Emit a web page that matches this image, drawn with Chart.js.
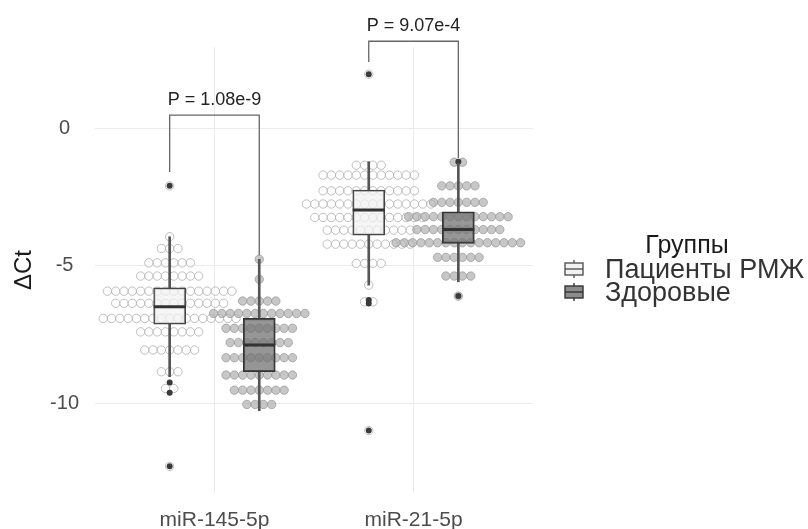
<!DOCTYPE html>
<html>
<head>
<meta charset="utf-8">
<script src="https://cdn.jsdelivr.net/npm/chart.js@4.4.1/dist/chart.umd.min.js"></script>
<style>
  body { margin: 0; background: #fff; }
</style>
</head>
<body>
<canvas id="chart" width="808" height="529"></canvas>
<script>
const categories = ['miR-145-5p', 'miR-21-5p'];
const groups = ['Пациенты РМЖ', 'Здоровые'];
const yTicks = [-10, -5, 0];

// box stats, one value per category
const patientsLow = [-9.04, -5.71];
const patientsQ1 = [-7.13, -3.89];
const patientsMedian = [-6.50, -2.98];
const patientsQ3 = [-5.81, -2.25];
const patientsHigh = [-3.95, -1.22];
const healthyLow = [-10.28, -5.59];
const healthyQ1 = [-8.86, -4.19];
const healthyMedian = [-7.89, -3.69];
const healthyQ3 = [-6.92, -3.04];
const healthyHigh = [-4.77, -1.28];

const patientsOutliers = [[-2.1, -9.25, -9.62, -12.3], [1.96, -6.25, -6.38, -11.0]];
const healthyOutliers = [[], [-1.22, -6.11]];

// dotplot: bin value of each row and how many dots are stacked in it
const patients145Rows = [-2.1, -3.95, -4.38, -4.9, -5.38, -5.93, -6.37, -6.92, -7.41, -8.07, -8.86, -9.47, -12.3];
const patients145Counts = [1, 1, 3, 6, 8, 16, 14, 17, 8, 7, 3, 2, 1];
const healthy145Rows = [-4.77, -5.5, -6.29, -6.74, -7.28, -7.8, -8.35, -8.98, -9.53, -10.05];
const healthy145Counts = [1, 1, 5, 12, 9, 8, 9, 9, 7, 4];
const patients21Rows = [1.96, -1.35, -1.71, -2.28, -2.76, -3.25, -3.71, -4.22, -4.92, -5.71, -6.32, -11.0];
const patients21Counts = [1, 4, 12, 12, 16, 14, 11, 11, 4, 1, 2, 1];
const healthy21Rows = [-1.24, -2.1, -2.7, -3.22, -3.69, -4.17, -4.7, -5.38, -6.11];
const healthy21Counts = [2, 5, 7, 13, 11, 16, 6, 4, 1];

const pLabels = ['P = 1.08e-9', 'P = 9.07e-4'];
const bracketTop = [0.47, 3.16];
const bracketLeftEnd = [-1.6, 2.4];
const bracketRightEnd = [-4.62, -1.1];

const dodge = 0.225;
const dotStep = 0.0417;
const FONT = '"Liberation Sans", Arial, sans-serif';

function dotPoints(rowsByCat, countsByCat, side) {
  const pts = [];
  rowsByCat.forEach((rows, c) => {
    const center = c + 1 + side * dodge;
    rows.forEach((y, r) => {
      const n = countsByCat[c][r];
      for (let i = 0; i < n; i++) pts.push({ x: center + (i - (n - 1) / 2) * dotStep, y: y });
    });
  });
  return pts;
}

const medians = [], whiskers = [], boxP = [], boxH = [], outliers = [];
categories.forEach((_, c) => {
  const xp = c + 1 - dodge, xh = c + 1 + dodge;
  medians.push({ x: xp, y: patientsMedian[c] }, { x: xh, y: healthyMedian[c] });
  whiskers.push(
    { x: xp, y: [patientsLow[c], patientsQ1[c]] }, { x: xp, y: [patientsQ3[c], patientsHigh[c]] },
    { x: xh, y: [healthyLow[c], healthyQ1[c]] }, { x: xh, y: [healthyQ3[c], healthyHigh[c]] }
  );
  boxP.push({ x: xp, y: [patientsQ1[c], patientsQ3[c]] });
  boxH.push({ x: xh, y: [healthyQ1[c], healthyQ3[c]] });
  patientsOutliers[c].forEach(v => outliers.push({ x: xp, y: v }));
  healthyOutliers[c].forEach(v => outliers.push({ x: xh, y: v }));
});

const legendFills = ['#f2f2f2', '#8c8c8c'];

const extras = {
  id: 'extras',
  afterDatasetsDraw(chart) {
    const { ctx, scales: { x, y } } = chart;
    ctx.save();
    // significance brackets
    pLabels.forEach((label, c) => {
      const x1 = x.getPixelForValue(c + 1 - dodge);
      const x2 = x.getPixelForValue(c + 1 + dodge);
      const yt = y.getPixelForValue(bracketTop[c]);
      ctx.strokeStyle = '#666';
      ctx.lineWidth = 1.3;
      ctx.beginPath();
      ctx.moveTo(x1, y.getPixelForValue(bracketLeftEnd[c]));
      ctx.lineTo(x1, yt);
      ctx.lineTo(x2, yt);
      ctx.lineTo(x2, y.getPixelForValue(bracketRightEnd[c]));
      ctx.stroke();
      ctx.fillStyle = '#222';
      ctx.font = '18px ' + FONT;
      ctx.textAlign = 'center';
      ctx.textBaseline = 'alphabetic';
      ctx.fillText(label, x.getPixelForValue(c + 1), yt - 10);
    });
    // legend
    ctx.fillStyle = '#1a1a1a';
    ctx.font = '25px ' + FONT;
    ctx.textAlign = 'center';
    ctx.fillText('Группы', 687, 253);
    groups.forEach((g, i) => {
      const cy = 269 + i * 23, cx = 574;
      ctx.strokeStyle = i ? '#333' : '#555';
      ctx.lineWidth = 1.4;
      ctx.beginPath();
      ctx.moveTo(cx, cy - 9);
      ctx.lineTo(cx, cy + 9);
      ctx.stroke();
      ctx.fillStyle = legendFills[i];
      ctx.fillRect(cx - 9, cy - 6, 18, 12);
      ctx.strokeRect(cx - 9, cy - 6, 18, 12);
      ctx.beginPath();
      ctx.moveTo(cx - 9, cy);
      ctx.lineTo(cx + 9, cy);
      ctx.stroke();
      ctx.fillStyle = '#333';
      ctx.font = '27px ' + FONT;
      ctx.textAlign = 'left';
      ctx.fillText(g, 605, cy + 9);
    });
    ctx.restore();
  }
};

new Chart(document.getElementById('chart'), {
  type: 'bar',
  data: {
    datasets: [
      {
        type: 'scatter', data: medians, pointStyle: 'line', pointRadius: 16,
        borderColor: '#333', borderWidth: 3
      },
      {
        data: boxP, grouped: false, barThickness: 32, borderSkipped: false,
        backgroundColor: 'rgba(242,242,242,0.75)', borderColor: '#444', borderWidth: 1.5
      },
      {
        data: boxH, grouped: false, barThickness: 32, borderSkipped: false,
        backgroundColor: 'rgba(115,115,115,0.75)', borderColor: '#333', borderWidth: 1.5
      },
      {
        data: whiskers, grouped: false, barThickness: 2, backgroundColor: '#555'
      },
      {
        type: 'scatter', data: outliers, pointRadius: 3,
        backgroundColor: '#3a3a3a', borderColor: '#3a3a3a', borderWidth: 0
      },
      {
        type: 'scatter', label: groups[1],
        data: dotPoints([healthy145Rows, healthy21Rows], [healthy145Counts, healthy21Counts], 1),
        pointRadius: 4.2, backgroundColor: 'rgba(175,175,175,0.7)', borderColor: 'rgba(150,150,150,0.7)', borderWidth: 1
      },
      {
        type: 'scatter', label: groups[0],
        data: dotPoints([patients145Rows, patients21Rows], [patients145Counts, patients21Counts], -1),
        pointRadius: 4.2, backgroundColor: 'rgba(255,255,255,0.5)', borderColor: 'rgba(175,175,175,0.8)', borderWidth: 1
      }
    ]
  },
  options: {
    responsive: false,
    animation: false,
    events: [],
    layout: { padding: { left: 0, right: 275, top: 47, bottom: 0 } },
    plugins: { legend: { display: false }, tooltip: { enabled: false } },
    scales: {
      x: {
        type: 'linear', min: 0.4, max: 2.6, offset: false,
        afterBuildTicks: s => { s.ticks = [1, 2].map(v => ({ value: v })); },
        afterFit: s => { s.height = 36; },
        grid: { color: '#ebebeb', drawTicks: false, offset: false },
        border: { display: false },
        ticks: {
          callback: v => categories[v - 1], maxRotation: 0, autoSkip: false,
          font: { family: FONT, size: 21 }, color: '#4d4d4d', padding: 15
        }
      },
      y: {
        min: -13.27, max: 2.95,
        afterBuildTicks: s => { s.ticks = yTicks.map(v => ({ value: v })); },
        afterFit: s => { s.width = 95; },
        grid: { color: '#ebebeb', drawTicks: false },
        border: { display: false },
        ticks: { crossAlign: 'center', padding: 16, font: { family: FONT, size: 20 }, color: '#4d4d4d' },
        title: { display: true, text: 'ΔCt', font: { family: FONT, size: 24 }, color: '#1a1a1a', padding: { top: 10 } }
      }
    }
  },
  plugins: [extras]
});
</script>
</body>
</html>
